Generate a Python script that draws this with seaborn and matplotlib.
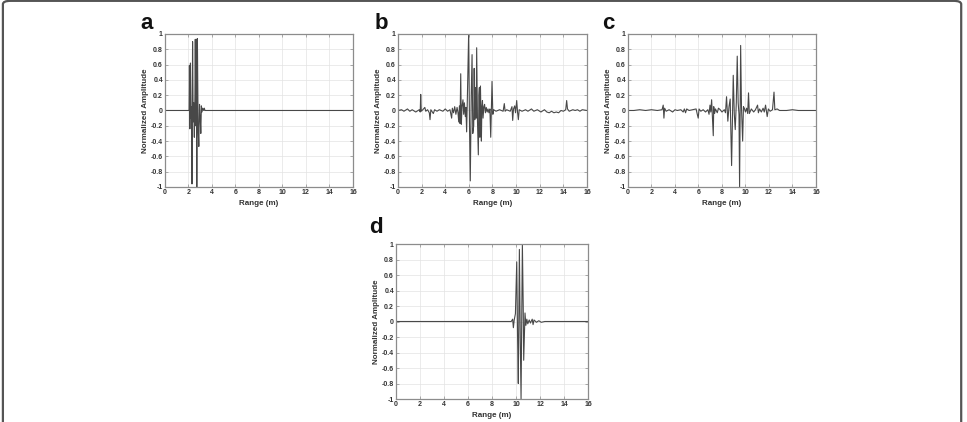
import pandas as pd
import numpy as np
import matplotlib.pyplot as plt
import seaborn as sns
from matplotlib.patches import FancyBboxPatch

# panel a: near-field return around 2-3 m
range_a = [0, 2.00, 2.05, 2.08, 2.12, 2.17, 2.22, 2.26, 2.30, 2.35, 2.40, 2.45, 2.50, 2.55,
           2.58, 2.63, 2.67, 2.71, 2.76, 2.82, 2.88, 2.94, 3.00, 3.05, 3.10, 3.15, 3.22,
           3.30, 3.35, 3.40, 16]
amp_a = [0, 0, 0.0, 0.59, -0.24, 0.62, -0.10, 0.05, -0.96, 0.90, -0.15, 0.10, -0.35, 0.20,
         0.93, -0.20, 0.93, -1.00, 0.94, -0.20, -0.47, 0.08, -0.10, -0.30, 0.06, -0.02, 0.03,
         0.0, 0.03, 0.0, 0]

# panel b
range_b = [0.0, 0.3, 0.5, 0.8, 1.0, 1.2, 1.5, 1.8, 1.88, 1.92, 1.97, 2.1, 2.27, 2.35, 2.5,
           2.65, 2.71, 2.78, 2.99, 3.1, 3.3, 3.5, 3.8, 4.0, 4.2, 4.4, 4.54, 4.6, 4.7, 4.8,
           4.9, 5.0, 5.08, 5.14, 5.2, 5.25, 5.31, 5.36, 5.42, 5.5, 5.56, 5.62, 5.7, 5.75,
           5.81, 5.87, 5.98, 6.05, 6.12, 6.2, 6.27, 6.33, 6.41, 6.45, 6.5, 6.56, 6.62, 6.66,
           6.73, 6.8, 6.85, 6.89, 6.93, 6.98, 7.06, 7.1, 7.15, 7.2, 7.27, 7.33, 7.4, 7.47,
           7.55, 7.62, 7.7, 7.78, 7.85, 7.96, 8.03, 8.1, 8.3, 8.6, 8.9, 9.0, 9.07, 9.2, 9.5,
           9.65, 9.71, 9.78, 9.88, 9.95, 10.05, 10.12, 10.19, 10.26, 10.5, 10.8, 11.0, 11.3,
           11.5, 11.8, 12.1, 12.4, 12.6, 12.8, 13.0, 13.2, 13.4, 13.6, 13.8, 14.0, 14.2,
           14.28, 14.35, 14.5, 14.8, 15.0, 15.2, 15.4, 15.6, 16.0]
amp_b = [0, 0.01, -0.01, 0.02, -0.01, 0.01, -0.02, 0.01, -0.02, 0.21, -0.01, 0.01, 0.04, -0.01,
         0.01, -0.03, -0.12, 0.01, -0.04, 0.01, -0.01, 0.01, -0.01, 0.02, -0.01, 0.01, -0.10,
         0.03, -0.03, 0.05, -0.05, 0.04, -0.03, -0.15, 0.06, -0.17, 0.48, -0.18, 0.05, 0.14,
         -0.05, 0.10, -0.08, 0.04, -0.28, 0.15, 1.00, -0.15, -0.92, 0.20, 0.73, -0.30, -0.20,
         0.55, -0.12, 0.30, -0.10, 0.82, -0.15, -0.58, 0.20, 0.30, -0.35, 0.32, -0.40, 0.05,
         0.13, -0.10, 0.05, 0.08, -0.03, 0.04, -0.02, 0.02, -0.03, 0.02, -0.35, 0.38, -0.05,
         0.01, -0.01, 0.01, -0.01, 0.09, -0.01, 0.01, -0.01, 0.05, -0.13, 0.02, 0.06, -0.03,
         0.13, -0.02, -0.12, 0.01, -0.01, 0.01, -0.01, 0.02, -0.01, 0.01, -0.02, 0.01, -0.02,
         -0.03, -0.01, -0.03, -0.02, -0.03, 0.0, -0.01, 0.01, 0.13, 0.02, -0.01, 0.01, 0.0,
         0.01, -0.01, 0.01, 0]

# panel c
range_c = [0, 0.5, 1.0, 1.5, 2.0, 2.5, 2.9, 3.0, 3.06, 3.12, 3.25, 3.5, 3.8, 4.0, 4.2, 4.5,
           4.7, 4.8, 4.9, 5.0, 5.2, 5.5, 5.8, 5.9, 5.98, 6.05, 6.2, 6.4, 6.6, 6.8, 6.9, 6.98,
           7.05, 7.12, 7.26, 7.3, 7.37, 7.45, 7.6, 7.7, 7.85, 8.0, 8.2, 8.3, 8.39, 8.5, 8.6,
           8.7, 8.82, 8.96, 9.05, 9.13, 9.22, 9.3, 9.38, 9.45, 9.5, 9.59, 9.66, 9.76, 9.83,
           9.9, 10.0, 10.1, 10.19, 10.26, 10.33, 10.5, 10.7, 10.85, 11.03, 11.1, 11.2, 11.35,
           11.5, 11.6, 11.71, 11.85, 11.95, 12.1, 12.3, 12.43, 12.5, 12.7, 12.9, 13.5, 14.0,
           14.5, 15.0, 16.0]
amp_c = [0, 0.0, 0.01, 0.0, 0.01, 0.0, 0.01, 0.07, -0.10, 0.03, -0.01, 0.01, -0.02, 0.01, 0.0,
         0.01, -0.02, 0.02, -0.03, 0.02, 0.0, 0.01, 0.02, -0.05, -0.10, 0.02, -0.01, 0.01,
         -0.02, 0.01, -0.05, 0.07, -0.02, 0.14, -0.33, 0.05, -0.04, 0.02, -0.03, 0.03, 0.01,
         -0.02, 0.01, -0.03, 0.18, -0.14, 0.05, 0.15, -0.72, 0.46, -0.05, -0.25, 0.10, 0.71,
         0.10, -0.05, -1.00, 0.85, 0.05, -0.40, 0.05, 0.03, -0.02, 0.03, -0.04, 0.23, -0.04,
         0.02, -0.02, 0.01, 0.07, -0.03, 0.02, -0.02, 0.03, -0.02, 0.07, -0.08, 0.02, -0.01,
         0.01, 0.24, 0.01, 0.02, 0.0, 0.0, 0.01, 0.0, 0.0, 0]

# panel d
range_d = [0, 9.6, 9.72, 9.78, 9.85, 9.95, 10.06, 10.13, 10.19, 10.28, 10.36, 10.42, 10.53,
           10.6, 10.64, 10.75, 10.82, 10.9, 10.98, 11.1, 11.2, 11.35, 11.42, 11.5, 11.7,
           11.9, 12.1, 12.4, 16]
amp_d = [0, 0, 0.03, -0.08, 0.02, 0.10, 0.77, -0.20, -0.80, 0.93, -0.30, -1.00, 1.00, 0.20,
         -0.50, 0.11, -0.05, 0.03, -0.03, 0.02, -0.02, 0.03, -0.04, 0.02, -0.01, 0.01,
         -0.01, 0.0, 0]

panels = [('a', range_a, amp_a), ('b', range_b, amp_b),
          ('c', range_c, amp_c), ('d', range_d, amp_d)]

sns.set_theme(style='whitegrid', rc={'grid.color': '#e3e3e3', 'grid.linewidth': 0.5,
                                     'axes.edgecolor': '#8c8c8c', 'axes.linewidth': 0.9})
plt.rcParams['font.family'] = ['Liberation Sans', 'DejaVu Sans']

fig = plt.figure(figsize=(9.67, 4.22), dpi=100)

# axes positions [left, bottom, width, height] in figure fractions
boxes = {'a': [0.1706, 0.5569, 0.1944, 0.3626],
         'b': [0.4116, 0.5569, 0.1954, 0.3626],
         'c': [0.6494, 0.5569, 0.1944, 0.3626],
         'd': [0.4095, 0.0545, 0.1986, 0.3673]}
letter_pos = {'a': (0.152, 0.932), 'b': (0.394, 0.932), 'c': (0.629, 0.932), 'd': (0.389, 0.448)}

for name, rng, amp in panels:
    ax = fig.add_axes(boxes[name])
    df = pd.DataFrame({'Range': rng, 'Amplitude': amp})
    sns.lineplot(data=df, x='Range', y='Amplitude', ax=ax, sort=False, estimator=None,
                 color='#484848', linewidth=0.8)
    ax.set_xlim(0, 16)
    ax.set_ylim(-1, 1)
    ax.set_xticks(np.arange(0, 17, 2))
    ax.set_yticks(np.round(np.arange(-1, 1.01, 0.2), 1))
    ax.set_yticklabels(['-1', '-0.8', '-0.6', '-0.4', '-0.2', '0', '0.2', '0.4', '0.6', '0.8', '1'])
    ax.tick_params(direction='in', length=2, width=0.5, colors='#8c8c8c', labelcolor='#333333',
                   labelsize=5, pad=1.5, top=True, right=True, bottom=True, left=True)
    for lab in ax.get_xticklabels() + ax.get_yticklabels():
        lab.set_fontweight('bold')
    ax.set_xlabel('Range (m)', fontsize=5.8, fontweight='bold', color='#333333', labelpad=2.5)
    ax.set_ylabel('Normalized Amplitude', fontsize=5.8, fontweight='bold', color='#333333',
                  labelpad=1.5)
    ax.grid(True)
    fig.text(letter_pos[name][0], letter_pos[name][1], name, fontsize=16, fontweight='bold',
             ha='center', va='baseline', color='#111111')

# rounded frame around the figure
frame = FancyBboxPatch((0.003, -0.05), 0.991, 1.048, boxstyle='round,pad=0,rounding_size=0.008',
                       transform=fig.transFigure, fill=False, edgecolor='#555555', linewidth=1.6)
fig.patches.append(frame)

fig.savefig('out.png', dpi=100)
